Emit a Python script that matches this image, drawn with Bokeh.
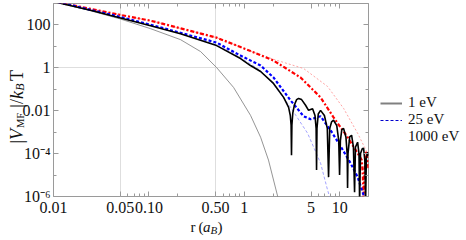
import math
from bokeh.plotting import figure
from bokeh.models import (Range1d, FixedTicker, LogAxis, CustomJSTickFormatter,
                          Label, Legend, LegendItem)
from bokeh.embed import file_html
from bokeh.resources import INLINE

FONT = "Liberation Serif"
NAN = float("nan")

# ---------------- data ----------------
black_r = [0.01, 0.0124, 0.0244, 0.0492, 0.104, 0.214, 0.512, 0.912, 1.16, 1.48, 2.02, 2.58, 2.91,
           3.03, 3.09, 3.12, 3.15, 3.22, 3.35, 3.53, 3.70, 3.98, 4.38, 4.71, 5.19, 5.50, 5.65, 5.71,
           5.77, 5.95, 6.29, 6.90, 7.40, 7.63, 7.85, 8.20, 8.61, 9.30, 9.75, 9.95, 10.15, 10.5, 10.96,
           11.6, 11.95, 12.07, 12.2, 12.7, 13.3, 13.9, 14.29, 14.6, 15.38, 15.9, 16.14, 16.5, 17.2,
           17.75, 18.3, 18.64, 19.0, 19.55, 20.0]
black_v = [1270, 971, 485, 217, 92, 39, 10.9, 2.71, 1.28, 0.675, 0.187, 0.0418, 0.0144,
           0.006, 0.0021, 8.5e-5, 0.0021, 0.008, 0.019, 0.033, 0.0376, 0.033, 0.018, 0.0104, 0.0125,
           0.006, 0.0015, 1.7e-5, 0.0015, 0.007, 0.0104, 0.006, 0.0015, 8e-6, 0.0015, 0.003, 0.0036,
           0.002, 4e-4, 1e-5, 4e-4, 0.0013, 0.0015, 6e-4, 1e-4, 2.5e-6, 1e-4, 6e-4, 7.2e-4, 2e-4,
           1.6e-6, 2e-4, 3.4e-4, 1e-4, 5e-7, 1e-4, 1.7e-4, 1.8e-4, 5e-5, 5e-7, 6e-5, 1.17e-4, 8e-5]

blue_r = [0.01, 0.0492, 0.104, 0.214, 0.512, 0.912, 1.48, 2.02, 3.05, 4.18, 4.95, 6.29, 8.0,
          10.2, 12.97, 15.38, 17.34, 19.3, 20.0]
blue_v = [1300, 242, 103, 43, 15, 3.73, 1.28, 0.355, 0.0303, 0.0055, 0.004, 0.0055, 0.00123,
          2.2e-4, 3.6e-5, 8.1e-6, 1.6e-6, 4e-7, 3e-7]

lightblue_r = [0.01, 0.0492, 0.104, 0.214, 0.512, 0.912, 1.48, 2.02, 3.05, 4.6, 6.29, 7.45, 8.0]
lightblue_v = [1280, 225, 95, 40, 12, 3.0, 0.75, 0.17, 0.0144, 8.9e-4, 3.6e-5, 2e-6, 7e-7]

red_r = [0.01, 0.0492, 0.104, 0.214, 0.512, 0.912, 1.16, 2.02, 3.88, 6.29, 8.61, 12.07, 15.38,
         17.0, 17.45, 17.75, 18.05, 18.9, 19.5, 20.0]
red_v = [1250, 300, 158, 70, 25.6, 9.27, 6.04, 2.19, 0.355, 0.0418, 0.0049, 5.8e-4, 1.05e-4,
         5e-5, 1e-5, 5e-7, 1e-5, 1.2e-4, 6e-5, 2e-5]

pink_r = [0.01, 0.0492, 0.104, 0.512, 0.912, 1.16, 2.02, 4.18, 7.45, 10.96, 15.38, 20.0]
pink_v = [1250, 300, 158, 25.6, 9.27, 6.04, 2.5, 0.93, 0.135, 0.0129, 8.9e-4, 8.5e-5]

gray_r = [0.01, 0.0244, 0.0492, 0.104, 0.214, 0.348, 0.512, 0.771, 1.16, 1.48, 1.79, 2.23, 2.36]
gray_v = [1290, 459, 195, 67, 20.7, 5.73, 1.03, 0.122, 0.0061, 5.8e-4, 5e-5, 1.05e-6, 4e-7]

x_major = [0.01, 0.05, 0.1, 0.5, 1, 5, 10]
x_labels = ["0.01", "0.05", "0.10", "0.50", "1", "5", "10"]
x_minor = [0.06, 0.07, 0.08, 0.09, 0.2, 0.6, 0.7, 0.8, 0.9, 2, 6, 7, 8, 9, 20]
y_major = [1e-6, 1e-4, 1e-2, 1, 100]
y_labels = ["10\u207b\u2076", "10\u207b\u2074", "0.01", "1", "100"]
y_minor = [1e-5, 1e-3, 0.1, 10, 1000]
x_grid = [0.05, 0.5]
y_grid = [1]
legend_labels = ["1 eV", "25 eV", "1000 eV"]

W, H = 466, 240

# ---------------- main figure ----------------
p = figure(width=W, height=H, x_axis_type="log", y_axis_type="log",
           x_range=Range1d(0.01, 20), y_range=Range1d(1e-6, 1000),
           output_backend="svg", toolbar_location=None,
           min_border_left=53, min_border_right=98, min_border_top=3, min_border_bottom=44)
p.outline_line_color = "#9a9a9a"
p.outline_line_width = 1
p.background_fill_color = "white"
p.border_fill_color = "white"

fmt_code = """
for (let i = 0; i < vals.length; i++) {
  if (Math.abs(Math.log10(tick / vals[i])) < 1e-6) return labs[i];
}
return "";
"""
xt = FixedTicker(ticks=x_major, minor_ticks=x_minor)
yt = FixedTicker(ticks=y_major, minor_ticks=y_minor)
xfmt = CustomJSTickFormatter(args=dict(vals=x_major, labs=x_labels), code=fmt_code)
yfmt = CustomJSTickFormatter(args=dict(vals=y_major, labs=y_labels), code=fmt_code)
empty = CustomJSTickFormatter(code="return '';")


def style_axis(ax, labels=True):
    ax.axis_line_color = None
    ax.major_tick_in = 5
    ax.major_tick_out = 0
    ax.minor_tick_in = 3
    ax.minor_tick_out = 0
    ax.major_tick_line_color = "#9a9a9a"
    ax.minor_tick_line_color = "#9a9a9a"
    ax.major_label_text_font = FONT
    ax.major_label_text_font_size = "16px" if labels else "0px"
    ax.major_label_text_color = "#111111"


p.xaxis.ticker = xt
p.xaxis.formatter = xfmt
p.yaxis.ticker = yt
p.yaxis.formatter = yfmt
for ax in p.xaxis:
    style_axis(ax)
    ax.major_label_standoff = 5
for ax in p.yaxis:
    style_axis(ax)
    ax.major_label_standoff = 3

top = LogAxis(ticker=xt, formatter=empty, major_label_standoff=0)
right = LogAxis(ticker=yt, formatter=empty, major_label_standoff=0)
style_axis(top, labels=False)
style_axis(right, labels=False)
p.add_layout(top, "above")
p.add_layout(right, "right")

p.xgrid.ticker = FixedTicker(ticks=x_grid)
p.ygrid.ticker = FixedTicker(ticks=y_grid)
p.xgrid.grid_line_color = "#dedede"
p.ygrid.grid_line_color = "#dedede"

# ---------------- curves ----------------
p.line(gray_r, gray_v, line_color="#7a7a7a", line_width=0.8)
p.line(lightblue_r, lightblue_v, line_color="#8c8cff", line_width=0.8, line_dash="3 2")
p.line(pink_r, pink_v, line_color="#ff9a9a", line_width=0.9, line_dash="2 2")
p.line(red_r, red_v, line_color="#ff0000", line_width=2.2, line_dash="4 2 2 2")
p.line(blue_r, blue_v, line_color="#0000ff", line_width=2.2, line_dash="3 2")
p.line(black_r, black_v, line_color="black", line_width=1.6)

# ---------------- overlay for titles and legend (page pixel space) ----------------
ov = figure(width=W, height=H, x_range=Range1d(0, W), y_range=Range1d(H, 0),
            output_backend="svg", toolbar_location=None,
            x_axis_location=None, y_axis_location=None, min_border=0)
ov.outline_line_color = None
ov.background_fill_alpha = 0
ov.border_fill_alpha = 0
ov.grid.visible = False
ov.styles = {"position": "absolute", "top": "0px", "left": "0px"}

# legend-only renderers (no visible data)
l1 = ov.line([NAN], [NAN], line_color="#808080", line_width=2)
l2 = ov.line([NAN], [NAN], line_color="#0000cc", line_width=1, line_dash="3 2")
l3 = ov.line([NAN], [NAN], line_alpha=0)
legend = Legend(items=[LegendItem(label=legend_labels[0], renderers=[l1]),
                       LegendItem(label=legend_labels[1], renderers=[l2]),
                       LegendItem(label=legend_labels[2], renderers=[l3])],
                location=(380, 95), border_line_color=None, background_fill_alpha=0,
                padding=0, margin=0, spacing=0, glyph_width=22, glyph_height=16,
                label_height=16, label_standoff=6, label_text_font=FONT,
                label_text_font_size="15px", label_text_color="#111111")
ov.add_layout(legend)


def add_label(x, y, text, size, italic=False, angle=0.0):
    ov.add_layout(Label(x=x, y=y, text=text, angle=angle,
                        text_align="left", text_baseline="alphabetic",
                        text_font=FONT, text_font_size=size,
                        text_font_style="italic" if italic else "normal",
                        text_color="#111111"))


A = math.pi / 2
# y title: |V_MF|/k_B T  (reading upward)
add_label(16, 143, "|", "18px", angle=A)
add_label(16, 139.4, "V", "18px", italic=True, angle=A)
add_label(19.5, 127.6, "MF", "10.5px", angle=A)
add_label(16, 107.3, "|", "18px", angle=A)
add_label(16, 103.5, "/", "18px", angle=A)
add_label(16, 98.5, "k", "18px", italic=True, angle=A)
add_label(19.5, 90.3, "B", "12px", italic=True, angle=A)
add_label(16, 80.5, "T", "18px", angle=A)

# x title: r (a_B)
add_label(190, 226, "r\u2009(", "15px")
add_label(202.5, 226, "a", "15px", italic=True)
add_label(210, 229, "B", "11px", italic=True)
add_label(217, 226, ")", "15px")

open("out.html", "w").write(file_html([p, ov], INLINE))
